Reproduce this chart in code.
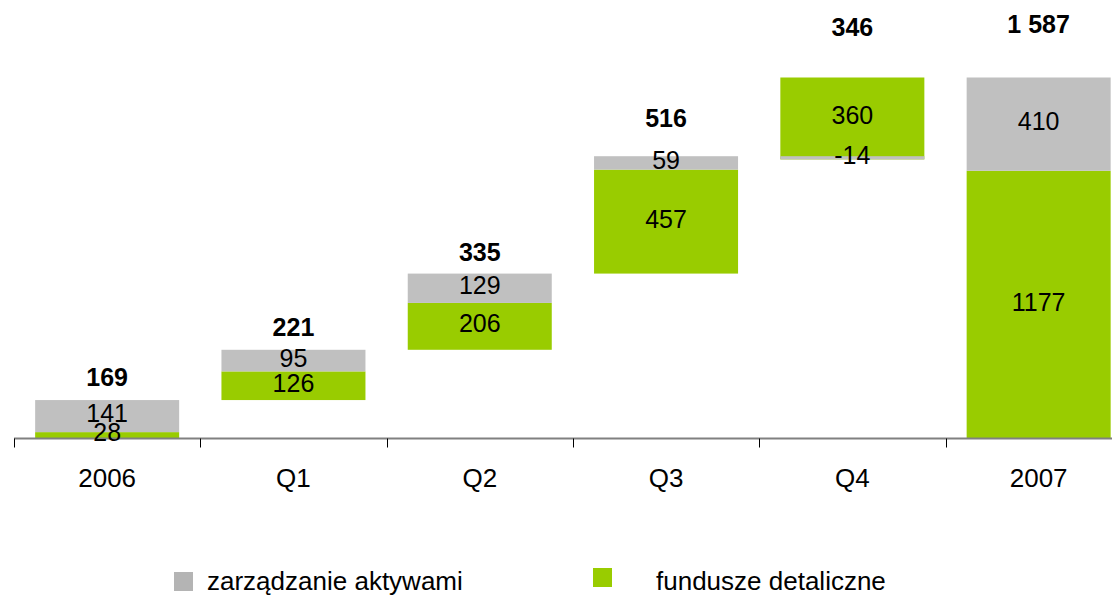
<!DOCTYPE html>
<html>
<head>
<meta charset="utf-8">
<script src="https://cdn.jsdelivr.net/npm/d3@7"></script>
<style>
  body { margin: 0; background: #fff; }
  text { font-family: 'Liberation Sans', Arial, sans-serif; }
</style>
</head>
<body>
<div id="chart"></div>
<script>
// data
const categories = ['2006', 'Q1', 'Q2', 'Q3', 'Q4', '2007'];
const isTotal = [true, false, false, false, false, true];
const aktywa = [141, 95, 129, 59, -14, 410];     // zarządzanie aktywami
const detaliczne = [28, 126, 206, 457, 360, 1177]; // fundusze detaliczne
const sumLabels = ['169', '221', '335', '516', '346', '1 587'];
// hidden series that carries the bold sum labels
const sumAnchor = [272, 488, 822, 1407, 1807, 1824];
const legendNames = ['zarządzanie aktywami', 'fundusze detaliczne'];

const width = 1112;
const height = 596;
const colors = { aktywa: '#c0c0c0', detaliczne: '#99cc00' };

const svg = d3
  .select('#chart')
  .append('svg')
  .attr('width', width)
  .attr('height', height);

// Scales
const x = d3
  .scaleBand()
  .domain(categories)
  .range([14, 14 + 6 * 186.3])
  .paddingInner(0.227)
  .paddingOuter(0.1135);

const y = d3
  .scaleLinear()
  .domain([0, 1900])
  .range([438.5, 438.5 - 1900 * (361 / 1587)]);

// build segments of the waterfall
let running = 0;
const segs = [];
categories.forEach(function(c, i) {
  const base = isTotal[i] ? 0 : running;
  const a = aktywa[i];
  const d = detaliczne[i];
  let dLo, dHi, aLo, aHi;
  if (a >= 0) {
    dLo = base; dHi = base + d;
    aLo = dHi; aHi = dHi + a;
  } else {
    aLo = base + a; aHi = base;
    dLo = base + a; dHi = dLo + d;
  }
  segs.push({ cat: c, key: 'detaliczne', lo: dLo, hi: dHi, v: d });
  segs.push({ cat: c, key: 'aktywa', lo: aLo, hi: aHi, v: a });
  running = base + a + d;
});

const g = svg.append('g');

g.selectAll('rect.seg')
  .data(segs)
  .enter()
  .append('rect')
  .attr('class', 'seg')
  .attr('x', function(d) { return x(d.cat); })
  .attr('width', x.bandwidth())
  .attr('y', function(d) { return y(d.hi); })
  .attr('height', function(d) { return y(d.lo) - y(d.hi); })
  .attr('fill', function(d) { return colors[d.key]; });

// Axis line + ticks
const axisY = y(0);
g.append('line')
  .attr('x1', x.range()[0])
  .attr('x2', width)
  .attr('y1', axisY)
  .attr('y2', axisY)
  .attr('stroke', '#808080')
  .attr('stroke-width', 2);

const bounds = d3.range(categories.length + 1).map(function(i) {
  return x.range()[0] + i * x.step();
});
g.selectAll('line.tick')
  .data(bounds)
  .enter()
  .append('line')
  .attr('class', 'tick')
  .attr('x1', function(d) { return Math.round(d) + 0.5; })
  .attr('x2', function(d) { return Math.round(d) + 0.5; })
  .attr('y1', axisY)
  .attr('y2', axisY + 9)
  .attr('stroke', '#000')
  .attr('stroke-width', 1);

g.selectAll('text.cat')
  .data(categories)
  .enter()
  .append('text')
  .attr('class', 'cat')
  .attr('x', function(d) { return x(d) + x.bandwidth() / 2; })
  .attr('y', 487)
  .attr('text-anchor', 'middle')
  .attr('font-size', '26px')
  .attr('fill', '#000')
  .text(function(d) { return d; });

// Values inside segments
g.selectAll('text.val')
  .data(segs)
  .enter()
  .append('text')
  .attr('class', 'val')
  .attr('x', function(d) { return x(d.cat) + x.bandwidth() / 2; })
  .attr('y', function(d) { return (y(d.lo) + y(d.hi)) / 2 + 6; })
  .attr('text-anchor', 'middle')
  .attr('font-size', '25px')
  .attr('fill', '#000')
  .text(function(d) { return d.v; });

// Bold sums
g.selectAll('text.sum')
  .data(sumLabels)
  .enter()
  .append('text')
  .attr('class', 'sum')
  .attr('x', function(d, i) { return x(categories[i]) + x.bandwidth() / 2; })
  .attr('y', function(d, i) { return y(sumAnchor[i]) + 9; })
  .attr('text-anchor', 'middle')
  .attr('font-size', '25px')
  .attr('font-weight', 'bold')
  .attr('fill', '#000')
  .text(function(d) { return d; });

// Legend
const legend = svg.append('g').attr('class', 'legend');
const legendItems = [
  { name: legendNames[0], color: '#b4b4b4', x: 174, y: 572, tx: 207 },
  { name: legendNames[1], color: colors.detaliczne, x: 593, y: 568, tx: 656 }
];
legend
  .selectAll('rect')
  .data(legendItems)
  .enter()
  .append('rect')
  .attr('x', function(d) { return d.x; })
  .attr('y', function(d) { return d.y; })
  .attr('width', 19)
  .attr('height', 19)
  .attr('fill', function(d) { return d.color; });
legend
  .selectAll('text')
  .data(legendItems)
  .enter()
  .append('text')
  .attr('x', function(d) { return d.tx; })
  .attr('y', 590)
  .attr('font-size', '26px')
  .attr('fill', '#000')
  .text(function(d) { return d.name; });
</script>
</body>
</html>
